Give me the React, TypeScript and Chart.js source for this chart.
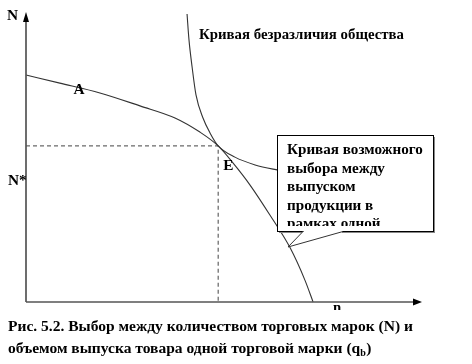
import { useEffect, useRef } from "react";
import { Chart, registerables } from "chart.js";
Chart.register(...registerables);

// Production-possibility (choice) curve
const ppcX = [0, 0.87, 1.9, 2.93, 3.83, 4.47, 4.94, 5.32, 5.76, 6.27, 6.79, 7.17, 7.38];
const ppcY = [7.88, 7.6, 7.26, 6.81, 6.39, 5.9, 5.42, 4.83, 4.06, 3.02, 1.88, 0.76, 0];
// Society indifference curve
const icX = [4.14, 4.19, 4.27, 4.37, 4.55, 4.73, 4.94, 5.37, 5.89, 6.48, 7.04];
const icY = [10.0, 9.1, 8.16, 7.19, 6.39, 5.87, 5.42, 5.03, 4.76, 4.58, 4.44];
// Equilibrium point E
const eqX = [0, 4.94, 4.94];
const eqY = [5.42, 5.42, 0];

const icLabel = "Кривая безразличия общества";
const boxLines = ["Кривая возможного", "выбора между", "выпуском", "продукции в", "рамках одной"];
const captionLines = [
  "Рис. 5.2. Выбор между количеством торговых марок (N) и",
  "объемом выпуска товара одной торговой марки (q",
];

const FAMILY = '"Liberation Serif", "Times New Roman", serif';
const font = (s: number) => `bold ${s}px ${FAMILY}`;

const pts = (xs: number[], ys: number[]) => xs.map((x, i) => ({ x, y: ys[i] }));

function fitSize(ctx: CanvasRenderingContext2D, text: string, width: number) {
  ctx.font = font(14);
  const w = ctx.measureText(text).width;
  return (14 * width) / w;
}

const overlay = {
  id: "overlay",
  afterDatasetsDraw(chart: any) {
    const ctx = chart.ctx as CanvasRenderingContext2D;
    const xs = chart.scales.x;
    const ys = chart.scales.y;
    const x0 = xs.getPixelForValue(0);
    const y0 = ys.getPixelForValue(0);
    const xEnd = xs.getPixelForValue(10);
    const yTop = ys.getPixelForValue(10);
    ctx.save();
    // axes
    ctx.strokeStyle = "#555";
    ctx.lineWidth = 1.7;
    ctx.beginPath();
    ctx.moveTo(x0, y0);
    ctx.lineTo(x0, yTop + 4);
    ctx.moveTo(x0, y0);
    ctx.lineTo(xEnd, y0);
    ctx.stroke();
    ctx.fillStyle = "#000";
    ctx.beginPath();
    ctx.moveTo(x0, yTop - 2);
    ctx.lineTo(x0 - 3, yTop + 8);
    ctx.lineTo(x0 + 3, yTop + 8);
    ctx.closePath();
    ctx.fill();
    ctx.beginPath();
    ctx.moveTo(xEnd + 7, y0);
    ctx.lineTo(xEnd - 2, y0 - 3.5);
    ctx.lineTo(xEnd - 2, y0 + 3.5);
    ctx.closePath();
    ctx.fill();

    const labelSize = fitSize(ctx, icLabel, 205);
    const boxSize = fitSize(ctx, boxLines[0], 136);
    const capSize = fitSize(ctx, captionLines[0], 405);

    // labels
    ctx.font = font(labelSize + 0.5);
    ctx.fillStyle = "#000";
    ctx.textBaseline = "middle";
    ctx.textAlign = "left";
    ctx.fillText("N", 7, 16);
    ctx.fillText("N*", 8, 181);
    ctx.fillText("A", xs.getPixelForValue(1.22), ys.getPixelForValue(7.36));
    ctx.fillText("E", xs.getPixelForValue(5.07), ys.getPixelForValue(4.72));
    ctx.font = font(labelSize);
    ctx.fillText(icLabel, 199, 35);
    // clipped x-axis label
    ctx.save();
    ctx.beginPath();
    ctx.rect(320, 304, 40, 6);
    ctx.clip();
    ctx.fillText("n", 333, 308);
    ctx.restore();

    // callout box
    const bl = 277, bt = 135, br = 433, bb = 231;
    ctx.fillStyle = "#888";
    ctx.fillRect(bl + 2, bt + 2, br - bl, bb - bt);
    ctx.fillStyle = "#fff";
    ctx.fillRect(bl, bt, br - bl, bb - bt);
    ctx.strokeStyle = "#000";
    ctx.lineWidth = 1;
    ctx.strokeRect(bl + 0.5, bt + 0.5, br - bl, bb - bt);
    // pointer
    ctx.beginPath();
    ctx.moveTo(303, bb + 0.5);
    ctx.lineTo(288, 247);
    ctx.lineTo(343, bb + 0.5);
    ctx.closePath();
    ctx.fillStyle = "#fff";
    ctx.fill();
    ctx.fillRect(304, bb - 1, 38, 3);
    ctx.beginPath();
    ctx.moveTo(303, bb + 0.5);
    ctx.lineTo(288, 247);
    ctx.lineTo(343, bb + 0.5);
    ctx.strokeStyle = "#333";
    ctx.stroke();
    // box text
    ctx.save();
    ctx.beginPath();
    ctx.rect(bl + 1, bt + 1, br - bl - 2, 225 - bt);
    ctx.clip();
    ctx.fillStyle = "#000";
    ctx.font = font(boxSize);
    boxLines.forEach((t, i) => ctx.fillText(t, 287, 150 + i * 18.6));
    ctx.restore();

    // caption
    ctx.fillStyle = "#000";
    ctx.font = font(capSize);
    ctx.fillText(captionLines[0], 8, 327);
    ctx.fillText(captionLines[1], 8, 349);
    const w = ctx.measureText(captionLines[1]).width;
    ctx.font = font(capSize * 0.65);
    ctx.fillText("b", 8 + w, 353);
    ctx.font = font(capSize);
    ctx.fillText(")", 8 + w + 6, 349);
    ctx.restore();
  },
};

export default function App() {
  const ref = useRef<HTMLCanvasElement>(null);
  useEffect(() => {
    const chart = new Chart(ref.current!, {
      type: "scatter",
      data: {
        datasets: [
          {
            data: pts(ppcX, ppcY),
            showLine: true,
            borderColor: "#333",
            borderWidth: 1.1,
            pointRadius: 0,
            cubicInterpolationMode: "monotone",
            clip: false,
          },
          {
            data: pts(icX, icY),
            showLine: true,
            borderColor: "#333",
            borderWidth: 1.1,
            pointRadius: 0,
            cubicInterpolationMode: "monotone",
            clip: false,
          },
          {
            data: pts(eqX, eqY),
            showLine: true,
            borderColor: "#444",
            borderWidth: 1,
            borderDash: [4, 3],
            pointRadius: 0,
            tension: 0,
            clip: false,
          },
        ],
      },
      options: {
        responsive: false,
        animation: false,
        events: [],
        layout: { padding: { left: 26, top: 14, right: 57, bottom: 62 } },
        scales: {
          x: { type: "linear", min: 0, max: 10, display: false },
          y: { type: "linear", min: 0, max: 10, display: false },
        },
        plugins: { legend: { display: false }, tooltip: { enabled: false }, title: { display: false } },
      },
      plugins: [overlay],
    } as any);
    return () => chart.destroy();
  }, []);
  return (
    <div style={{ position: "absolute", left: 0, top: 0, width: 472, height: 364, background: "#fff" }}>
      <canvas ref={ref} width={472} height={364} />
    </div>
  );
}
